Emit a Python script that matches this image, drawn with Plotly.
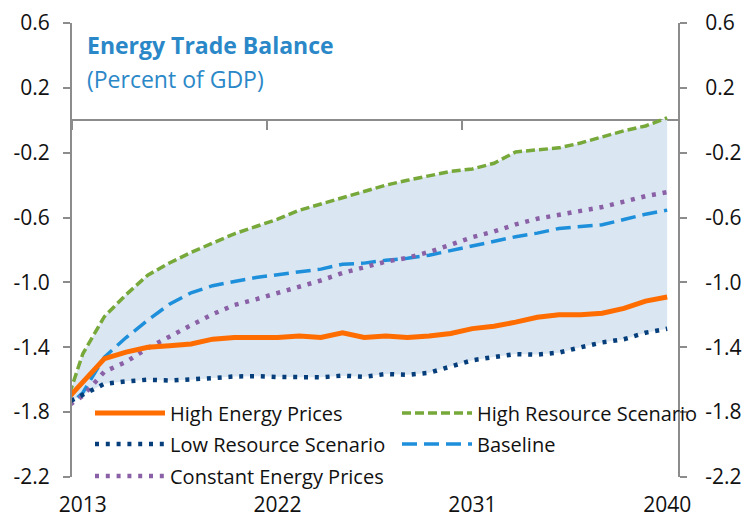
import plotly.graph_objects as go

years = list(range(2012, 2041))

high_energy = [-1.76, -1.62, -1.47, -1.43, -1.40, -1.39, -1.38, -1.35, -1.34, -1.34,
               -1.34, -1.33, -1.34, -1.31, -1.34, -1.33, -1.34, -1.33, -1.315, -1.285,
               -1.27, -1.245, -1.215, -1.20, -1.20, -1.19, -1.16, -1.115, -1.09]
high_resource = [-1.84, -1.44, -1.21, -1.075, -0.955, -0.88, -0.815, -0.76, -0.70, -0.655,
                 -0.61, -0.555, -0.515, -0.48, -0.435, -0.40, -0.37, -0.345, -0.315, -0.30,
                 -0.265, -0.195, -0.18, -0.17, -0.14, -0.10, -0.065, -0.035, 0.015]
low_resource = [-1.76, -1.69, -1.625, -1.61, -1.60, -1.605, -1.60, -1.59, -1.58, -1.578,
                -1.583, -1.585, -1.585, -1.575, -1.582, -1.565, -1.57, -1.557, -1.517, -1.48,
                -1.46, -1.442, -1.445, -1.433, -1.40, -1.37, -1.35, -1.31, -1.286]
baseline = [-1.80, -1.68, -1.46, -1.34, -1.233, -1.135, -1.064, -1.02, -0.994, -0.97,
            -0.952, -0.936, -0.918, -0.888, -0.881, -0.863, -0.851, -0.832, -0.804, -0.777,
            -0.748, -0.718, -0.696, -0.667, -0.655, -0.644, -0.612, -0.579, -0.554]
constant_prices = [-1.79, -1.70, -1.55, -1.49, -1.405, -1.332, -1.264, -1.196, -1.139, -1.104,
                   -1.067, -1.027, -0.988, -0.942, -0.904, -0.872, -0.848, -0.812, -0.767, -0.721,
                   -0.686, -0.642, -0.607, -0.583, -0.557, -0.535, -0.502, -0.468, -0.443]

x_label_years = [2013, 2022, 2031, 2040]
y_ticks = [0.6, 0.2, -0.2, -0.6, -1.0, -1.4, -1.8, -2.2]
y_tick_text = ["0.6", "0.2", "-0.2", "-0.6", "-1.0", "-1.4", "-1.8", "-2.2"]

FONT = "Open Sans"
AXIS = "#8C8C8C"
ORANGE = "#FF6C00"
GREEN = "#77A83A"
NAVY = "#053E7A"
LBLUE = "#1E8FDA"
PURPLE = "#8A60A6"
FILL = "#DAE6F1"
TITLE_BLUE = "#2B88C8"

fig = go.Figure()

# shaded band between low and high resource scenarios
fig.add_trace(go.Scatter(x=years, y=low_resource, mode="lines", line=dict(width=0, color=FILL),
                         showlegend=False, hoverinfo="skip"))
fig.add_trace(go.Scatter(x=years, y=high_resource, mode="lines", line=dict(width=0, color=FILL),
                         fill="tonexty", fillcolor=FILL, showlegend=False, hoverinfo="skip"))

fig.add_trace(go.Scatter(x=years, y=high_resource, mode="lines", name="High Resource Scenario",
                         line=dict(color=GREEN, width=3.5, dash="9px,4px"), legend="legend2"))
fig.add_trace(go.Scatter(x=years, y=baseline, mode="lines", name="Baseline",
                         line=dict(color=LBLUE, width=3.5, dash="15px,7px"), legend="legend4"))
fig.add_trace(go.Scatter(x=years, y=constant_prices, mode="lines", name="Constant Energy Prices",
                         line=dict(color=PURPLE, width=4.5, dash="4px,6.8px"), legend="legend5"))
fig.add_trace(go.Scatter(x=years, y=low_resource, mode="lines", name="Low Resource Scenario",
                         line=dict(color=NAVY, width=4.5, dash="4px,6.8px"), legend="legend3"))
fig.add_trace(go.Scatter(x=years, y=high_energy, mode="lines", name="High Energy Prices",
                         line=dict(color=ORANGE, width=5), legend="legend"))

# dummy traces to hold the secondary axes
fig.add_trace(go.Scatter(x=[2013], y=[None], xaxis="x2", yaxis="y", showlegend=False, hoverinfo="skip"))
fig.add_trace(go.Scatter(x=[2013], y=[None], xaxis="x", yaxis="y2", showlegend=False, hoverinfo="skip"))

xr = [2012.5, 2040.5]
yr = [-2.2, 0.6]
zero_pos = (0 - yr[0]) / (yr[1] - yr[0])

fig.update_layout(
    width=747, height=522,
    margin=dict(l=72, r=69, t=23, b=45, autoexpand=False),
    paper_bgcolor="white", plot_bgcolor="white",
    font=dict(family=FONT, size=21, color="#111111"),
    xaxis=dict(range=xr, tickmode="array", tickvals=x_label_years,
               ticktext=[str(v) for v in x_label_years], ticks="", showline=False,
               showgrid=False, zeroline=False, ticklabelstandoff=13, automargin=False),
    xaxis2=dict(range=xr, overlaying="x", anchor="free", position=zero_pos, side="bottom",
                showline=True, linecolor=AXIS, linewidth=2, ticks="outside", ticklen=9,
                tickwidth=2, tickcolor=AXIS, tickmode="array",
                tickvals=[v - 0.5 for v in x_label_years], showticklabels=False,
                showgrid=False, zeroline=False, layer="below traces", automargin=False),
    yaxis=dict(range=yr, tickmode="array", tickvals=y_ticks, ticktext=y_tick_text,
               showline=True, linecolor=AXIS, linewidth=2, ticks="outside", ticklen=7,
               tickwidth=2, tickcolor=AXIS, showgrid=False, zeroline=False,
               ticklabelstandoff=9, automargin=False),
    yaxis2=dict(range=yr, overlaying="y", side="right", anchor="x", tickmode="array",
                tickvals=y_ticks, ticktext=y_tick_text, showline=True, linecolor=AXIS,
                linewidth=2, ticks="outside", ticklen=7, tickwidth=2, tickcolor=AXIS,
                showgrid=False, zeroline=False, ticklabelstandoff=14, automargin=False),
)

plot_l, plot_w, plot_b, plot_h = 72, 606, 477, 454


def px_x(p):
    return (p - plot_l) / plot_w


def px_y(p):
    return (plot_b - p) / plot_h


leg_common = dict(bgcolor="rgba(0,0,0,0)", font=dict(family=FONT, size=20, color="#111111"),
                  itemwidth=70, xanchor="left", yanchor="middle", orientation="h",
                  itemclick=False, itemdoubleclick=False)
fig.update_layout(
    legend=dict(x=px_x(90), y=px_y(413), **leg_common),
    legend2=dict(x=px_x(397), y=px_y(413), **leg_common),
    legend3=dict(x=px_x(90), y=px_y(444), **leg_common),
    legend4=dict(x=px_x(397), y=px_y(444), **leg_common),
    legend5=dict(x=px_x(90), y=px_y(476), **leg_common),
)

fig.add_annotation(x=px_x(85), y=px_y(45), xref="paper", yref="paper", xanchor="left",
                   yanchor="middle", showarrow=False, text="<b>Energy Trade Balance</b>",
                   font=dict(family=FONT, size=23, color=TITLE_BLUE))
fig.add_annotation(x=px_x(85), y=px_y(79), xref="paper", yref="paper", xanchor="left",
                   yanchor="middle", showarrow=False, text="(Percent of GDP)",
                   font=dict(family=FONT, size=23, color=TITLE_BLUE))

fig.write_html("out.html", config={"displayModeBar": False},
               post_script="document.body.style.margin='0';document.body.style.padding='0';")
